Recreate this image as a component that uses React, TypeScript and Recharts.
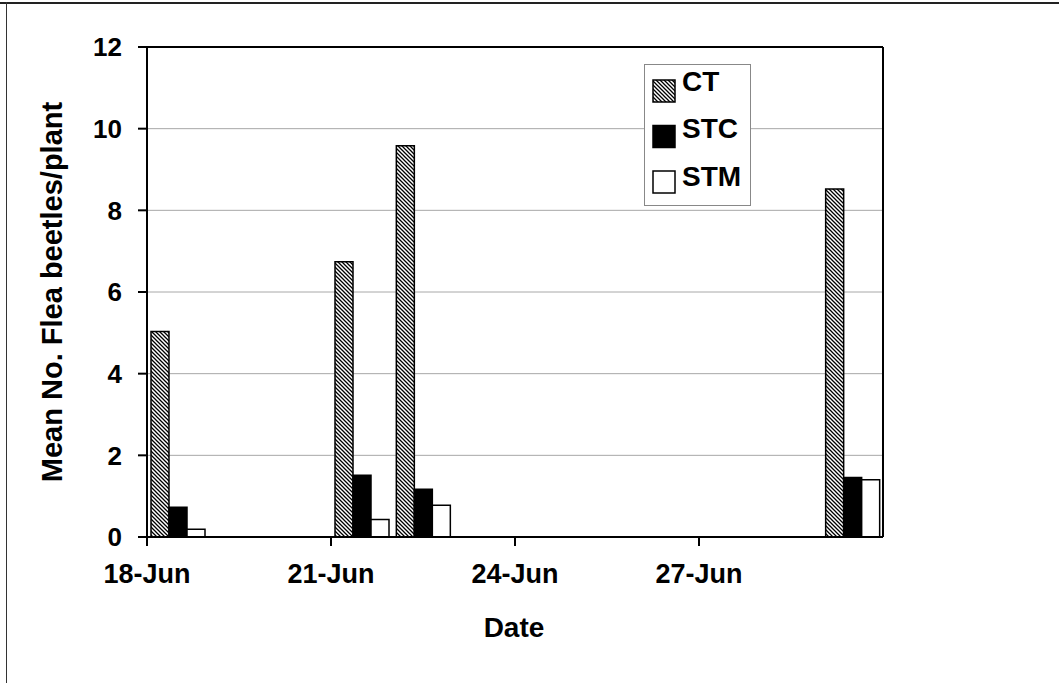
import React from "react";
import { Bar, BarChart, CartesianGrid, ReferenceLine, XAxis, YAxis } from "recharts";

// sampling days (June)
const days = [18, 21, 22, 29];
const ct = [5.03, 6.74, 9.58, 8.52];
const stc = [0.73, 1.51, 1.17, 1.46];
const stm = [0.19, 0.43, 0.78, 1.4];

const xTicks = [18, 21, 24, 27];
const yTicks = [0, 2, 4, 6, 8, 10, 12];

// each day is a band one day wide, bars sit in the middle of it (like Excel's date axis)
const data = days.map((d, i) => ({ day: d + 0.5, CT: ct[i], STC: stc[i], STM: stm[i] }));

const FONT = "'Liberation Sans', Arial, Helvetica, sans-serif";

function Hatch({ id }: { id: string }) {
  return (
    <pattern id={id} patternUnits="userSpaceOnUse" width={4} height={4}>
      <rect width={4} height={4} fill="#fff" />
      <path d="M-1,-1 L5,5 M-1,3 L1,5 M3,-1 L5,1" stroke="#000" strokeWidth={1.3} />
    </pattern>
  );
}

function Legend() {
  const rows = [
    { name: "CT", fill: "url(#hatchLegend)" },
    { name: "STC", fill: "#000" },
    { name: "STM", fill: "#fff" },
  ];
  return (
    <svg
      width={107}
      height={142}
      style={{ position: "absolute", left: 644, top: 64, background: "#fff" }}
    >
      <defs>
        <Hatch id="hatchLegend" />
      </defs>
      <rect x={0.5} y={0.5} width={106} height={141} fill="#fff" stroke="#888" strokeWidth={1} />
      {rows.map((r, i) => (
        <g key={r.name}>
          <rect x={9} y={16 + i * 45.5} width={22} height={22} fill={r.fill} stroke="#000" strokeWidth={1.5} />
          <text
            x={38}
            y={26.5 + i * 47.5}
            fontFamily={FONT}
            fontWeight="bold"
            fontSize={28}
            fill="#000"
          >
            {r.name}
          </text>
        </g>
      ))}
    </svg>
  );
}

export default function App() {
  return (
    <div style={{ position: "absolute", left: 0, top: 0, width: 1059, height: 683, background: "#fff" }}>
      <div style={{ position: "absolute", left: 0, top: 2, width: 1059, height: 2, background: "#222" }} />
      <div style={{ position: "absolute", left: 6, top: 2, width: 1, height: 681, background: "#333" }} />
      <BarChart
        width={1059}
        height={683}
        data={data}
        margin={{ top: 47, right: 176, left: 67, bottom: 96 }}
        barGap={0}
        barSize={18}
      >
        <defs>
          <Hatch id="hatchBar" />
        </defs>
        <CartesianGrid vertical={false} stroke="#a8a8a8" strokeWidth={1} />
        <XAxis
          dataKey="day"
          type="number"
          domain={[18, 30]}
          ticks={xTicks}
          tickFormatter={(d) => `${d}-Jun`}
          allowDataOverflow
          height={50}
          tickSize={9}
          tickMargin={18}
          axisLine={{ stroke: "#000", strokeWidth: 2 }}
          tickLine={{ stroke: "#000", strokeWidth: 2 }}
          tick={{ fill: "#000", fontFamily: FONT, fontWeight: "bold", fontSize: 27 }}
        />
        <YAxis
          domain={[0, 12]}
          ticks={yTicks}
          width={80}
          tickSize={9}
          tickMargin={16}
          axisLine={{ stroke: "#000", strokeWidth: 2 }}
          tickLine={{ stroke: "#000", strokeWidth: 2 }}
          tick={{ fill: "#000", fontFamily: FONT, fontWeight: "bold", fontSize: 26 }}
        />
        <ReferenceLine y={12} stroke="#000" strokeWidth={2} />
        <ReferenceLine x={30} stroke="#000" strokeWidth={2} />
        <Bar dataKey="CT" fill="url(#hatchBar)" stroke="#000" strokeWidth={1.5} isAnimationActive={false} />
        <Bar dataKey="STC" fill="#000" stroke="#000" strokeWidth={1.5} isAnimationActive={false} />
        <Bar dataKey="STM" fill="#fff" stroke="#000" strokeWidth={1.5} isAnimationActive={false} />
      </BarChart>
      <Legend />
      <div
        style={{
          position: "absolute",
          left: 414,
          width: 200,
          top: 612,
          textAlign: "center",
          fontFamily: FONT,
          fontWeight: "bold",
          fontSize: 28,
        }}
      >
        Date
      </div>
      <div
        style={{
          position: "absolute",
          left: 52,
          top: 292,
          transform: "translate(-50%, -50%) rotate(-90deg)",
          whiteSpace: "nowrap",
          fontFamily: FONT,
          fontWeight: "bold",
          fontSize: 29,
        }}
      >
        Mean No. Flea beetles/plant
      </div>
    </div>
  );
}
